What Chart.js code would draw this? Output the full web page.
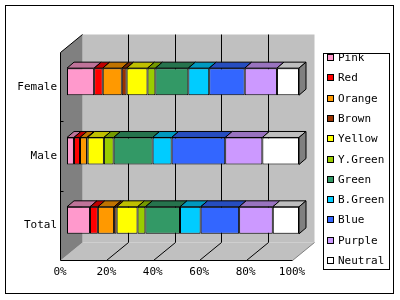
<!DOCTYPE html>
<html>
<head>
<meta charset="utf-8">
<title>Colour preference</title>
<script src="https://cdn.jsdelivr.net/npm/chart.js@4.4.0/dist/chart.umd.min.js"></script>
<style>
  body { margin: 0; background: #fff; }
  #wrap { width: 400px; height: 300px; }
</style>
</head>
<body>
<div id="wrap"><canvas id="colorChart" width="400" height="300"></canvas></div>
<script>
// categories top to bottom, series left to right
var categories = ["Female", "Male", "Total"];
var seriesNames = ["Pink", "Red", "Orange", "Brown", "Yellow", "Y.Green", "Green", "B.Green", "Blue", "Purple", "Neutral"];

// share of answers (%), one value per series
var femaleValues = [11.7, 3.7, 8.2, 2.1, 9.0, 3.4, 14.2, 9.0, 15.3, 13.9, 9.5];
var maleValues   = [3.0, 2.6, 3.0, 0.3, 7.0, 4.2, 16.8, 8.2, 23.1, 16.0, 15.8];
var totalValues  = [9.9, 3.4, 7.0, 1.1, 9.0, 3.4, 14.9, 8.9, 16.6, 14.5, 11.3];

var xTicks = [0, 20, 40, 60, 80, 100];

var seriesColors = ["#FF99CC", "#FF0000", "#FF9900", "#993300", "#FFFF00", "#99CC00",
                    "#339966", "#00CCFF", "#3366FF", "#CC99FF", "#FFFFFF"];

// 3d look: wall depth, bar offset into the box, bar depth
var WX = 22, WY = 18;
var DX = 7, DY = -5;
var BX = 7, BY = 6;

function shade(hex, f) {
  var n = parseInt(hex.slice(1), 16);
  var r = Math.round(((n >> 16) & 255) * f);
  var g = Math.round(((n >> 8) & 255) * f);
  var b = Math.round((n & 255) * f);
  return "rgb(" + r + "," + g + "," + b + ")";
}

function poly(ctx, pts, fill, stroke) {
  ctx.beginPath();
  ctx.moveTo(pts[0][0], pts[0][1]);
  for (var i = 1; i < pts.length; i++) ctx.lineTo(pts[i][0], pts[i][1]);
  ctx.closePath();
  if (fill) { ctx.fillStyle = fill; ctx.fill(); }
  if (stroke) { ctx.strokeStyle = stroke; ctx.lineWidth = 1; ctx.stroke(); }
}

function line(ctx, x1, y1, x2, y2, color) {
  ctx.beginPath();
  ctx.moveTo(x1, y1);
  ctx.lineTo(x2, y2);
  ctx.strokeStyle = color;
  ctx.lineWidth = 1;
  ctx.stroke();
}

var box3d = {
  id: "box3d",
  beforeDraw: function(chart) {
    var ctx = chart.ctx;
    ctx.save();
    ctx.fillStyle = "#fff";
    ctx.fillRect(0, 0, chart.width, chart.height);
    ctx.strokeStyle = "#000";
    ctx.lineWidth = 1;
    ctx.strokeRect(5.5, 5.5, 388, 288);
    ctx.restore();
  },
  beforeDatasetsDraw: function(chart) {
    var ctx = chart.ctx, a = chart.chartArea, xs = chart.scales.x, ys = chart.scales.y;
    var L = Math.round(a.left) + 0.5, R = Math.round(a.right) + 0.5;
    var T = Math.round(a.top) + 0.5, B = Math.round(a.bottom) + 0.5;
    ctx.save();
    // back wall, floor, side wall
    ctx.fillStyle = "#c0c0c0";
    ctx.fillRect(L + WX, T - WY, R - L, B - T);
    poly(ctx, [[L, B], [L + WX, B - WY], [R + WX, B - WY], [R, B]], "#c0c0c0");
    poly(ctx, [[L, T], [L + WX, T - WY], [L + WX, B - WY], [L, B]], "#808080");
    // grid on back wall and floor
    xs.ticks.forEach(function(t) {
      if (t.value <= 0 || t.value >= 100) return;
      var px = Math.round(xs.getPixelForValue(t.value)) + 0.5;
      line(ctx, px + WX, T - WY, px + WX, B - WY, "#000");
      line(ctx, px, B, px + WX, B - WY, "#000");
    });
    line(ctx, R, B, R + WX, B - WY, "#808080");
    // edges
    line(ctx, L, T, L, B, "#000");
    line(ctx, L, T, L + WX, T - WY, "#000");
    line(ctx, L, B, R, B, "#000");
    // category ticks on side wall
    var band = (a.bottom - a.top) / categories.length;
    for (var i = 1; i < categories.length; i++) {
      var ty = Math.round(a.top + band * i) + 0.5;
      line(ctx, L, ty, L + 3, ty, "#000");
    }
    ctx.restore();
    ctx.save();
    ctx.translate(DX, DY);
  },
  afterDatasetsDraw: function(chart) {
    var ctx = chart.ctx;
    var last = chart.data.datasets.length - 1;
    chart.data.datasets.forEach(function(ds, di) {
      var meta = chart.getDatasetMeta(di);
      meta.data.forEach(function(el) {
        var p = el.getProps(["x", "y", "base", "height"], true);
        var l = Math.min(p.x, p.base), r = Math.max(p.x, p.base);
        var top = p.y - p.height / 2, bot = p.y + p.height / 2;
        if (r - l < 0.2) return;
        poly(ctx, [[l, top], [l + BX, top - BY], [r + BX, top - BY], [r, top]], shade(seriesColors[di], 0.75), "#000");
        if (di === last) {
          poly(ctx, [[r, top], [r + BX, top - BY], [r + BX, bot - BY], [r, bot]], shade(seriesColors[di], 0.5), "#000");
        }
      });
    });
    ctx.restore();
  },
  afterDraw: function(chart) {
    var ctx = chart.ctx;
    ctx.save();
    ctx.fillStyle = "#fff";
    ctx.fillRect(323.5, 53.5, 66, 216);
    ctx.strokeStyle = "#000";
    ctx.lineWidth = 1;
    ctx.strokeRect(323.5, 53.5, 66, 216);
    ctx.font = "11px 'DejaVu Sans Mono', monospace";
    ctx.textBaseline = "middle";
    seriesNames.forEach(function(name, i) {
      var cy = Math.round(58 + 20.3 * i);
      ctx.fillStyle = seriesColors[i];
      ctx.fillRect(327.5, cy - 3.5, 6, 6);
      ctx.strokeStyle = "#000";
      ctx.strokeRect(327.5, cy - 3.5, 6, 6);
      ctx.fillStyle = "#000";
      ctx.fillText(name, 338, cy + 0.5);
    });
    ctx.restore();
  }
};

var rows = [femaleValues, maleValues, totalValues];
var datasets = seriesNames.map(function(name, i) {
  return {
    label: name,
    data: rows.map(function(r) { return r[i]; }),
    backgroundColor: seriesColors[i],
    borderColor: "#000",
    borderWidth: 1,
    borderSkipped: false,
    barPercentage: 0.39,
    categoryPercentage: 1,
    clip: false
  };
});

Chart.defaults.font.family = "'DejaVu Sans Mono', monospace";
Chart.defaults.font.size = 11;
Chart.defaults.color = "#000";

var chart = new Chart(document.getElementById("colorChart"), {
  type: "bar",
  data: { labels: categories, datasets: datasets },
  options: {
    indexAxis: "y",
    responsive: false,
    animation: false,
    devicePixelRatio: 1,
    layout: { padding: { left: 5, top: 52, right: 108, bottom: 20 } },
    plugins: { legend: { display: false }, tooltip: { enabled: false } },
    scales: {
      x: {
        stacked: true,
        min: 0,
        max: 100,
        afterBuildTicks: function(s) { s.ticks = xTicks.map(function(v) { return { value: v }; }); },
        afterFit: function(s) { s.height = 20; },
        grid: { display: false, drawTicks: false },
        border: { display: false },
        ticks: { maxRotation: 0, padding: 6, callback: function(v) { return v + "%"; } }
      },
      y: {
        stacked: true,
        afterFit: function(s) { s.width = 55; },
        grid: { display: false, drawTicks: false },
        border: { display: false },
        ticks: { padding: 3 }
      }
    }
  },
  plugins: [box3d]
});
</script>
</body>
</html>
